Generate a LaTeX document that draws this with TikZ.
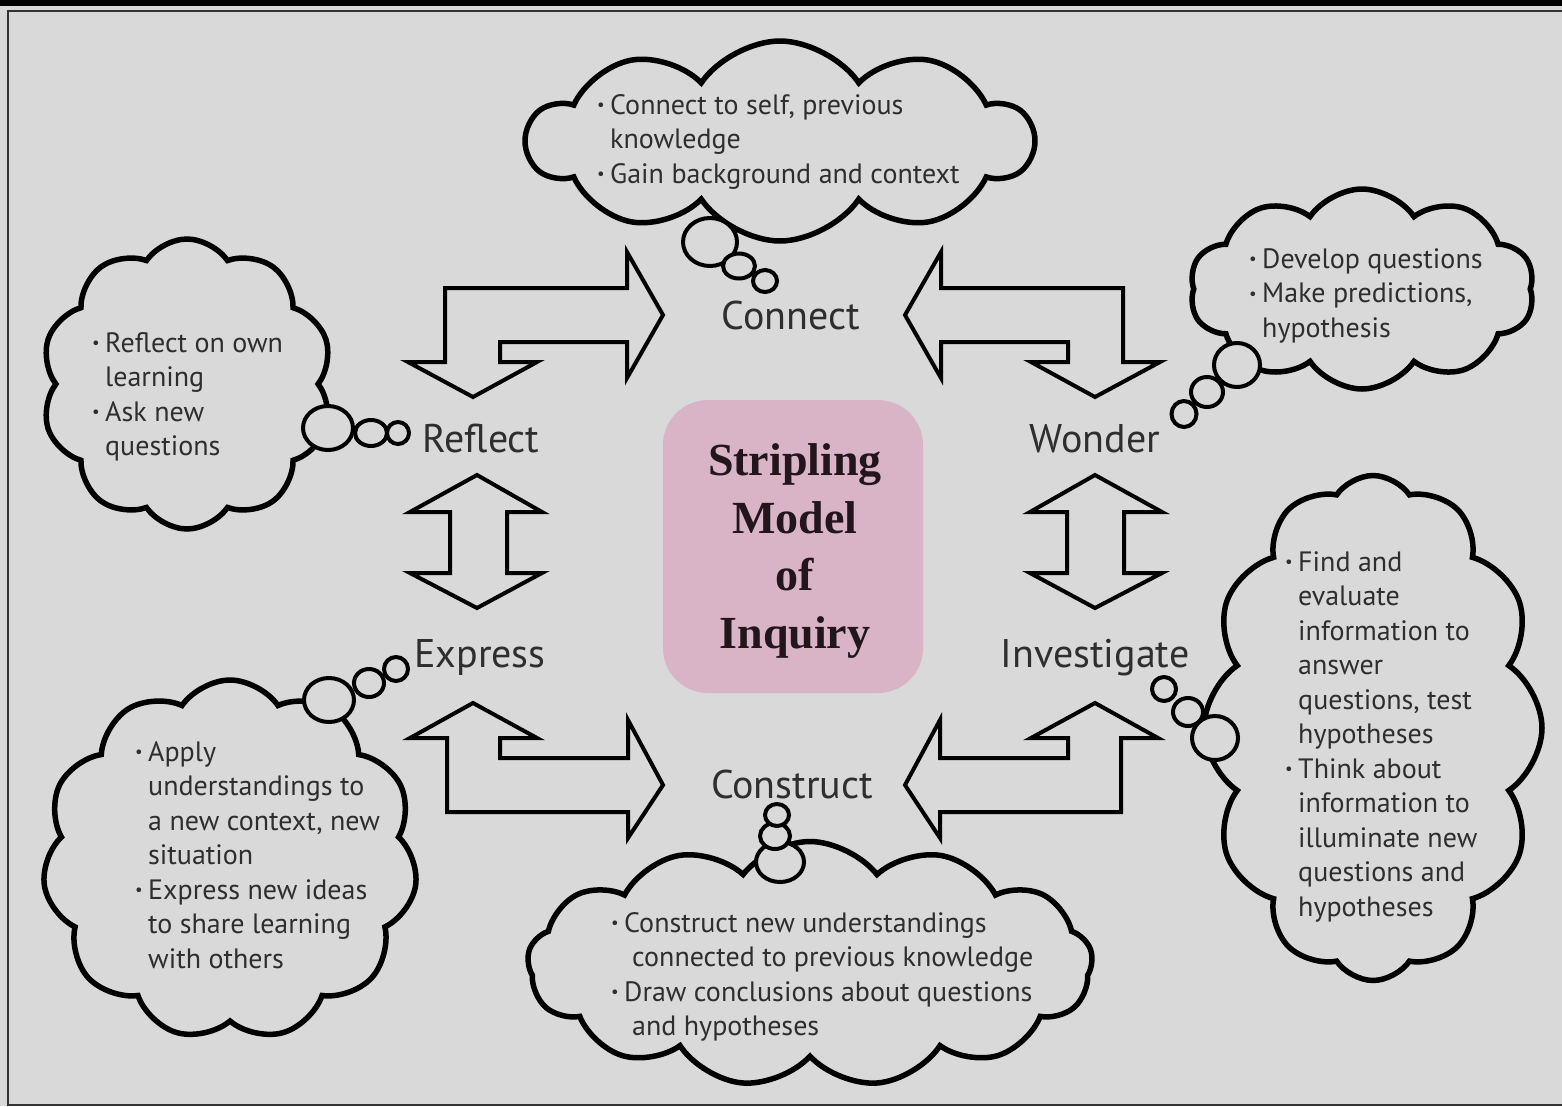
\documentclass[tikz,border=0pt]{standalone}
\usepackage{fontspec}
\setmainfont{PT Sans}
\newfontfamily\titlefont{Liberation Serif}
\usetikzlibrary{shapes.symbols,shapes.geometric}
\definecolor{bgc}{HTML}{D9D9D9}
\definecolor{pinkc}{HTML}{D8B4C6}
\definecolor{txtc}{HTML}{2E2E2E}
\definecolor{titc}{HTML}{22151B}
\newcommand\bul{\makebox[13pt][l]{\raisebox{0.12em}{\scalebox{0.6}{•}}}}
\newcommand\ind{\hspace*{13pt}}
\begin{document}
\begin{tikzpicture}[x=1pt,y=-1pt,
  thought/.style={cloud, cloud puffs=10, cloud puff arc=112, cloud ignores aspect, draw=black, line width=5.5pt, fill=bgc, inner sep=0pt},
  bubble/.style={draw=black, line width=4pt, fill=bgc},
  blockarrow/.style={draw=black, line width=4pt, line join=miter},
  stage/.style={font=\fontsize{40}{46}\selectfont, text=txtc, inner sep=0pt, anchor=base},
  note/.style={font=\fontsize{28}{34.5}\selectfont, text=txtc, align=left, anchor=north west, inner sep=0pt},
]
\useasboundingbox (0,0) rectangle (1562,1106);
\fill[bgc] (0,0) rectangle (1562,1106);
\fill[black] (0,0) rectangle (1562,6);
\draw[line width=2.5pt, black!80] (1562,11) -- (8,11) -- (8,1105) -- (1562,1105);

% clouds
\node[thought, minimum width=505pt, minimum height=200pt] (cConnect) at (780,141) {};
\node[thought, minimum width=292pt, minimum height=290pt] (cReflect) at (187,384) {};
\node[thought, minimum width=345pt, minimum height=200pt] (cWonder) at (1362,289) {};
\node[thought, cloud puffs=12, minimum width=338pt, minimum height=505pt] (cInvestigate) at (1373,728) {};
\node[thought, cloud puffs=11, minimum width=375pt, minimum height=360pt] (cExpress) at (230,860) {};
\node[thought, cloud puffs=13, cloud puff arc=105, minimum width=565pt, minimum height=245pt] (cConstruct) at (810,964) {};

% thought bubbles
\draw[bubble] (710,242) ellipse [x radius=27pt, y radius=24pt];
\draw[bubble] (739,266) ellipse [x radius=16pt, y radius=12.5pt];
\draw[bubble] (765,281) ellipse [x radius=12pt, y radius=11pt];

\draw[bubble] (328,428) ellipse [x radius=25pt, y radius=22pt];
\draw[bubble] (371,433) ellipse [x radius=16pt, y radius=13pt];
\draw[bubble] (398,433) ellipse [x radius=11pt, y radius=11pt];

\draw[bubble] (1237,365) ellipse [x radius=23pt, y radius=22pt];
\draw[bubble] (1207,392) ellipse [x radius=16pt, y radius=15pt];
\draw[bubble] (1184,414) ellipse [x radius=12.5pt, y radius=13pt];

\draw[bubble] (1215,738) ellipse [x radius=23pt, y radius=22pt];
\draw[bubble] (1188,712) ellipse [x radius=15pt, y radius=14pt];
\draw[bubble] (1164,689) ellipse [x radius=12pt, y radius=12pt];

\draw[bubble] (329,700) ellipse [x radius=25pt, y radius=22pt];
\draw[bubble] (369,683) ellipse [x radius=15pt, y radius=14pt];
\draw[bubble] (396,669) ellipse [x radius=12pt, y radius=12pt];

\draw[bubble] (780,862) ellipse [x radius=24pt, y radius=20pt];
\draw[bubble] (775,836) ellipse [x radius=15pt, y radius=13pt];
\draw[bubble] (777,815) ellipse [x radius=12pt, y radius=11pt];

% block arrows
\draw[blockarrow] (445,288) -- (627,288) -- (627,252) -- (663,315) -- (627,378) -- (627,342) -- (500,342) -- (500,362) -- (537,362) -- (473,397) -- (408,362) -- (445,362) -- cycle;
\draw[blockarrow] (1123,288) -- (941,288) -- (941,252) -- (905,315) -- (941,378) -- (941,342) -- (1068,342) -- (1068,362) -- (1031,362) -- (1095,397) -- (1160,362) -- (1123,362) -- cycle;
\draw[blockarrow] (477,475) -- (542,512) -- (507,512) -- (507,573) -- (542,573) -- (477,608) -- (410,573) -- (450,573) -- (450,512) -- (410,512) -- cycle;
\draw[blockarrow] (1095,475) -- (1162,512) -- (1124,512) -- (1124,573) -- (1162,573) -- (1095,608) -- (1030,573) -- (1067,573) -- (1067,512) -- (1030,512) -- cycle;
\draw[blockarrow] (473,703) -- (537,738) -- (500,738) -- (500,758) -- (628,758) -- (628,720) -- (663,785) -- (628,838) -- (628,812) -- (447,812) -- (447,738) -- (410,738) -- cycle;
\draw[blockarrow] (1095,703) -- (1031,738) -- (1068,738) -- (1068,758) -- (940,758) -- (940,720) -- (905,785) -- (940,838) -- (940,812) -- (1121,812) -- (1121,738) -- (1158,738) -- cycle;

% centre
\fill[pinkc, rounded corners=45pt] (663,400) rectangle (923,693);
\node[font=\titlefont\bfseries\fontsize{46}{57.5}\selectfont, text=titc, align=center, inner sep=0pt] (title) at (795,551) {Stripling\\Model\\of\\Inquiry};

% stage labels
\node[stage] (connect) at (791,329) {Connect};
\node[stage] (reflect) at (481,452) {Reflect};
\node[stage] (wonder) at (1095,452) {Wonder};
\node[stage] (express) at (480,667) {Express};
\node[stage] (investigate) at (1095,667) {Investigate};
\node[stage] (construct) at (792,798) {Construct};

% cloud texts
\node[note] (tConnect) at (597,94) {\bul Connect to self, previous\\\ind knowledge\\\bul Gain background and context};
\node[note] (tReflect) at (92,332) {\bul Reflect on own\\\ind learning\\\bul Ask new\\\ind questions};
\node[note] (tWonder) at (1249,248) {\bul Develop questions\\\bul Make predictions,\\\ind hypothesis};
\node[note] (tInvestigate) at (1285,551) {\bul Find and\\\ind evaluate\\\ind information to\\\ind answer\\\ind questions, test\\\ind hypotheses\\\bul Think about\\\ind information to\\\ind illuminate new\\\ind questions and\\\ind hypotheses};
\node[note] (tExpress) at (135,741) {\bul Apply\\\ind understandings to\\\ind a new context, new\\\ind situation\\\bul Express new ideas\\\ind to share learning\\\ind with others};
\node[note] (tConstruct) at (611,912) {\bul Construct new understandings\\\hspace*{21pt}connected to previous knowledge\\\bul Draw conclusions about questions\\\hspace*{21pt}and hypotheses};
\end{tikzpicture}
\end{document}
